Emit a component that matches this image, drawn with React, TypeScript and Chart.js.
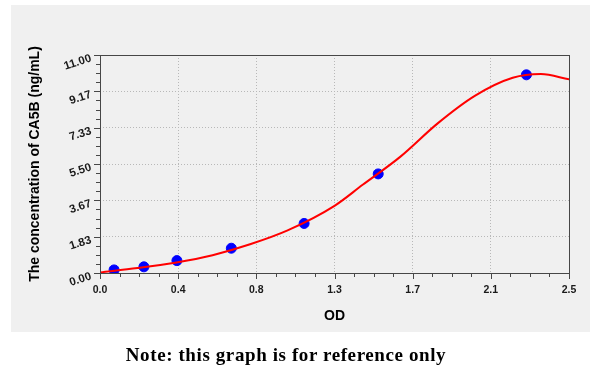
import React, { useEffect, useRef } from "react";
import { Chart, registerables } from "chart.js";

Chart.register(...registerables);

// Standard points (OD, concentration)
const stdOD = [0.075, 0.234, 0.41, 0.70, 1.088, 1.483, 2.273];
const stdConc = [0.156, 0.312, 0.625, 1.25, 2.5, 5, 10];

// Fitted curve
const curveOD = [0.0, 0.2, 0.4, 0.6, 0.8, 1.0, 1.25, 1.4, 1.6, 1.8, 2.0, 2.2, 2.35, 2.5];
const curveConc = [0.03, 0.25, 0.52, 0.9, 1.45, 2.15, 3.39, 4.45, 5.86, 7.55, 8.95, 9.85, 10.04, 9.77];

const xMin = 0;
const xMax = 2.5;
const yMin = 0;
const yMax = 11;
const xTickLabels = ["0.0", "0.4", "0.8", "1.3", "1.7", "2.1", "2.5"];
const yTickLabels = ["0.00", "1.83", "3.67", "5.50", "7.33", "9.17", "11.00"];
const minorPerMajor = 4;

const xTitle = "OD";
const yTitle = "The concentration of CA5B (ng/mL)";
const note = "Note: this graph is for reference only";

const frameColor = "#474747";

const framePlugin = {
  id: "frameTicks",
  afterDraw(chart: any) {
    const { ctx, chartArea: a, scales } = chart;
    const x = scales.x;
    const y = scales.y;
    ctx.save();
    ctx.strokeStyle = frameColor;
    ctx.lineWidth = 1;
    ctx.strokeRect(Math.round(a.left) + 0.5, Math.round(a.top) + 0.5, Math.round(a.right - a.left), Math.round(a.bottom - a.top));
    ctx.beginPath();
    const nX = (xTickLabels.length - 1) * minorPerMajor;
    for (let i = 0; i <= nX; i++) {
      const v = xMin + ((xMax - xMin) * i) / nX;
      const px = Math.round(x.getPixelForValue(v)) + 0.5;
      const len = i % minorPerMajor === 0 ? 6 : 4;
      ctx.moveTo(px, Math.round(a.bottom));
      ctx.lineTo(px, Math.round(a.bottom) + len);
    }
    const nY = (yTickLabels.length - 1) * minorPerMajor;
    for (let i = 0; i <= nY; i++) {
      const v = yMin + ((yMax - yMin) * i) / nY;
      const py = Math.round(y.getPixelForValue(v)) + 0.5;
      const len = i % minorPerMajor === 0 ? 6 : 4;
      ctx.moveTo(Math.round(a.left), py);
      ctx.lineTo(Math.round(a.left) - len, py);
    }
    ctx.stroke();
    ctx.restore();
  },
};

export default function App() {
  const ref = useRef<HTMLCanvasElement | null>(null);

  useEffect(() => {
    if (!ref.current) return;
    const gridColor = (c: any) =>
      c.index === 0 || c.index === (c.scale.ticks?.length ?? 0) - 1 ? "rgba(0,0,0,0)" : "#b8b8b8";
    const chart = new Chart(ref.current, {
      type: "scatter",
      data: {
        datasets: [
          {
            type: "line",
            data: curveOD.map((v, i) => ({ x: v, y: curveConc[i] })),
            borderColor: "#ff0000",
            borderWidth: 2,
            pointRadius: 0,
            cubicInterpolationMode: "monotone",
            fill: false,
          } as any,
          {
            type: "scatter",
            data: stdOD.map((v, i) => ({ x: v, y: stdConc[i] })),
            backgroundColor: "#0000ff",
            borderColor: "#0000ff",
            pointRadius: 5,
            pointHoverRadius: 5,
          },
        ],
      },
      options: {
        responsive: false,
        maintainAspectRatio: false,
        animation: false,
        layout: { padding: { left: 0, top: 55, right: 31, bottom: 0 } },
        plugins: { legend: { display: false }, tooltip: { enabled: false } },
        scales: {
          x: {
            type: "linear",
            min: xMin,
            max: xMax,
            afterFit: (s: any) => {
              s.height = 98;
            },
            afterBuildTicks: (s: any) => {
              s.ticks = xTickLabels.map((_, i) => ({ value: xMin + ((xMax - xMin) * i) / (xTickLabels.length - 1) }));
            },
            ticks: {
              autoSkip: false,
              maxRotation: 0,
              minRotation: 0,
              padding: 11,
              color: "#1a1a1a",
              font: { family: "'Liberation Sans', Arial, sans-serif", size: 10.5, weight: "bold" },
              callback: (_v: any, i: number) => xTickLabels[i],
            },
            grid: { color: gridColor, lineWidth: 1, drawTicks: false },
            border: { display: false, dash: [1, 2] },
            title: {
              display: true,
              text: xTitle,
              color: "#000",
              font: { family: "'Liberation Sans', Arial, sans-serif", size: 14, weight: "bold" },
              padding: { top: 0, bottom: 46 },
            },
          },
          y: {
            type: "linear",
            min: yMin,
            max: yMax,
            afterFit: (s: any) => {
              s.width = 100;
            },
            afterBuildTicks: (s: any) => {
              s.ticks = yTickLabels.map((_, i) => ({ value: yMin + ((yMax - yMin) * i) / (yTickLabels.length - 1) }));
            },
            ticks: {
              autoSkip: false,
              minRotation: 18,
              maxRotation: 18,
              padding: 9,
              labelOffset: 3,
              color: "#1a1a1a",
              font: { family: "'Liberation Sans', Arial, sans-serif", size: 11.5, weight: "bold" },
              callback: (_v: any, i: number) => yTickLabels[i],
            },
            grid: { color: gridColor, lineWidth: 1, drawTicks: false },
            border: { display: false, dash: [1, 2] },
            title: {
              display: true,
              text: yTitle,
              color: "#000",
              font: { family: "'Liberation Sans', Arial, sans-serif", size: 14, weight: "bold" },
              padding: { top: 27, bottom: 0 },
            },
          },
        },
      } as any,
      plugins: [framePlugin],
    });
    return () => chart.destroy();
  }, []);

  return (
    <div style={{ position: "fixed", left: 0, top: 0, width: 600, height: 371, background: "#fff", overflow: "hidden" }}>
      <div style={{ position: "absolute", left: 11, top: 5, width: 579, height: 327, background: "#f0f0f0" }} />
      <canvas ref={ref} width={600} height={371} style={{ position: "absolute", left: 0, top: 0, width: 600, height: 371 }} />
      <div
        style={{
          position: "absolute",
          left: 0,
          width: 572,
          top: 345,
          textAlign: "center",
          fontFamily: "'Liberation Serif', 'Times New Roman', serif",
          fontWeight: "bold",
          fontSize: 19,
          lineHeight: "19px",
          letterSpacing: 0.6,
          color: "#000",
          whiteSpace: "nowrap",
        }}
      >
        {note}
      </div>
    </div>
  );
}
